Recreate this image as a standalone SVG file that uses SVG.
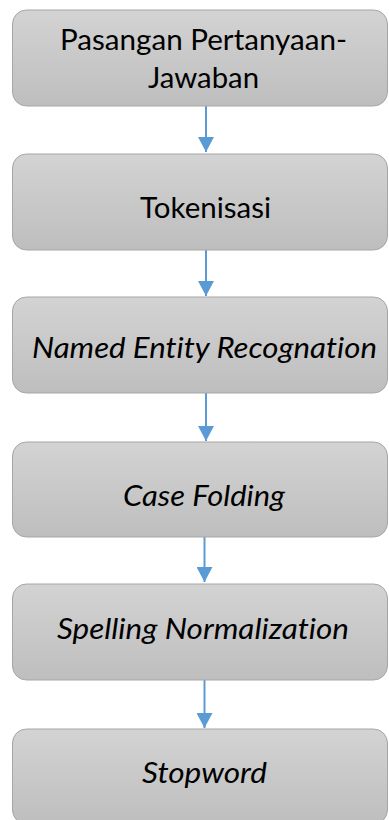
<svg xmlns="http://www.w3.org/2000/svg" width="389" height="820" viewBox="0 0 389 820">
  <style>
    .box { fill: url(#boxFill); stroke: #a6a6a6; stroke-width: 1; }
    .label { font-family: Lato, "Open Sans", "Liberation Sans", sans-serif; font-size: 29px; fill: #000; text-anchor: middle; font-variant-ligatures: none; }
    .it { font-style: italic; }
    .flow { stroke: #5b9bd5; stroke-width: 2; fill: none; marker-end: url(#head); }
  </style>
  <defs>
    <linearGradient id="boxFill" x1="0" y1="0" x2="0" y2="1">
      <stop offset="0" stop-color="#d3d3d3"/>
      <stop offset="1" stop-color="#bebebe"/>
    </linearGradient>
    <marker id="head" markerUnits="userSpaceOnUse" markerWidth="16" markerHeight="16" refX="15" refY="8" orient="auto">
      <path d="M0,0 L15,8 L0,16 Z" fill="#5b9bd5"/>
    </marker>
  </defs>

  <rect width="389" height="820" fill="#ffffff"/>

  <!-- connectors -->
  <g id="connectors">
    <path class="flow" d="M206,106 V152"/>
    <path class="flow" d="M206,250 V296"/>
    <path class="flow" d="M206,393 V441"/>
    <path class="flow" d="M204.5,537 V582"/>
    <path class="flow" d="M204.5,680 V728"/>
  </g>

  <!-- process steps -->
  <g id="step-pairs">
    <rect class="box" x="12.5" y="10" width="375" height="96" rx="14"/>
    <text class="label" x="203.5" y="50" textLength="287" lengthAdjust="spacingAndGlyphs">Pasangan Pertanyaan-</text>
    <text class="label" x="203.5" y="88" textLength="111" lengthAdjust="spacingAndGlyphs">Jawaban</text>
  </g>
  <g id="step-tokenisasi">
    <rect class="box" x="12.5" y="154" width="375" height="96" rx="14"/>
    <text class="label" x="205.5" y="218" textLength="131" lengthAdjust="spacingAndGlyphs">Tokenisasi</text>
  </g>
  <g id="step-ner">
    <rect class="box" x="12.5" y="297" width="375" height="96" rx="14"/>
    <text class="label it" x="204.5" y="358" textLength="345" lengthAdjust="spacingAndGlyphs">Named Entity Recognation</text>
  </g>
  <g id="step-casefolding">
    <rect class="box" x="12.5" y="442" width="375" height="95" rx="14"/>
    <text class="label it" x="204" y="506" textLength="162" lengthAdjust="spacingAndGlyphs">Case Folding</text>
  </g>
  <g id="step-spelling">
    <rect class="box" x="12.5" y="584" width="375" height="96" rx="14"/>
    <text class="label it" x="203" y="639" textLength="292" lengthAdjust="spacingAndGlyphs">Spelling Normalization</text>
  </g>
  <g id="step-stopword">
    <rect class="box" x="12.5" y="729" width="375" height="95" rx="14"/>
    <text class="label it" x="204.5" y="783" textLength="125" lengthAdjust="spacingAndGlyphs">Stopword</text>
  </g>
</svg>
